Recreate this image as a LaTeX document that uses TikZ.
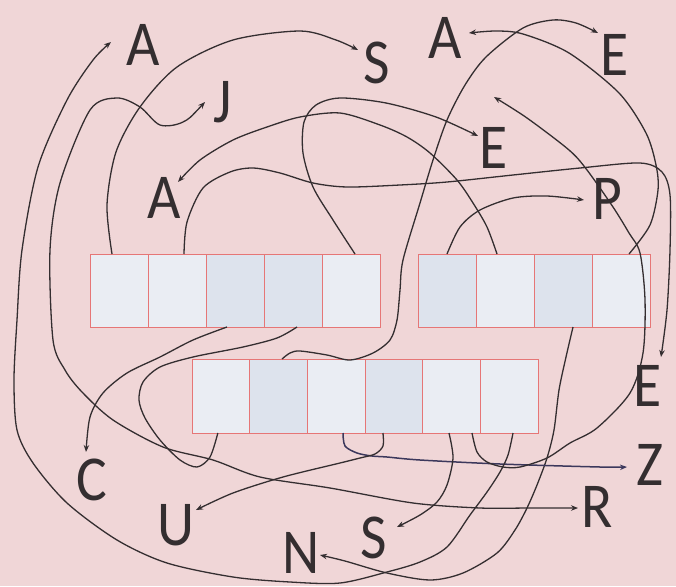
\documentclass[tikz,border=0pt]{standalone}
\usepackage{fontspec}
\newfontfamily\lettfont[FakeStretch=0.9]{Carlito}
\usetikzlibrary{arrows.meta,positioning,calc}
\definecolor{paper}{RGB}{240,214,215}
\definecolor{slotfill}{RGB}{234,237,243}
\definecolor{slotdark}{RGB}{221,227,237}
\definecolor{slotedge}{RGB}{230,118,118}
\definecolor{ink}{RGB}{52,46,48}
\definecolor{navy}{RGB}{60,56,92}

\begin{document}
\begin{tikzpicture}[x=1pt, y=-1pt,
  slot/.style={rectangle, draw=slotedge, line width=0.9pt, fill=slotfill,
              minimum width=58pt, minimum height=73pt, inner sep=0pt, outer sep=0pt},
  slotd/.style={slot, fill=slotdark},
  lowslot/.style={slot, minimum width=57.7pt, minimum height=74pt},
  lowslotd/.style={lowslot, fill=slotdark},
  lett/.style={font=\lettfont\fontsize{64}{64}\selectfont, text=ink, inner sep=1pt},
  arr/.style={-{Stealth[length=7pt,width=5.5pt]}, line width=1.3pt, color=ink},
  darr/.style={{Stealth[length=7pt,width=5.5pt]}-{Stealth[length=7pt,width=5.5pt]},
              line width=1.3pt, color=ink},
  narr/.style={-{Stealth[length=7pt,width=5.5pt]}, line width=1.5pt, color=navy},
  wire/.style={line width=1.3pt, color=ink},
  node distance=0pt
]
\useasboundingbox (0,0) rectangle (676,586);
\fill[paper] (0,0) rectangle (676,586);

% ── Upper row: five + four slots ─────────────
\node[slot] (a1) at (119.5,290.5) {};
\node[slot, right=of a1] (a2) {};
\node[slotd, right=of a2] (a3) {};
\node[slotd, right=of a3] (a4) {};
\node[slot, right=of a4] (a5) {};
\node[slotd] (b1) at (447,290.5) {};
\node[slot, right=of b1] (b2) {};
\node[slotd, right=of b2] (b3) {};
\node[slot, right=of b3] (b4) {};

% ── Lower row: six slots ─────────────
\node[lowslot] (c1) at (220.85,396) {};
\node[lowslotd, right=of c1] (c2) {};
\node[lowslot, right=of c2] (c3) {};
\node[lowslotd, right=of c3] (c4) {};
\node[lowslot, right=of c4] (c5) {};
\node[lowslot, right=of c5] (c6) {};

% ── Letters ─────────────
\node[lett] (aTL) at (143,45) {A};
\node[lett] (j)   at (223,102) {J};
\node[lett] (sT)  at (377,63) {S};
\node[lett] (aTR) at (445,38) {A};
\node[lett] (eT)  at (615,55) {E};
\node[lett] (eM)  at (494,148) {E};
\node[lett] (aL)  at (164,198) {A};
\node[lett] (p)   at (607,199) {P};
\node[lett] (eR)  at (648,386) {E};
\node[lett] (c)   at (92,480) {C};
\node[lett] (z)   at (650,465) {Z};
\node[lett] (u)   at (176,525) {U};
\node[lett] (r)   at (597,507) {R};
\node[lett] (sB)  at (374,538) {S};
\node[lett] (n)   at (301,553) {N};
\coordinate (loose) at (494,97);

% ── Connectors from the upper row ─────────────
\draw[arr] plot[smooth] coordinates {($(a1.north)+(-7.5,0)$) (107,205) (116,152)
  (140,107) (177,67) (233,40) (300,31) (336,40) ($(sT)+(-19,-13)$)};
\draw[arr] plot[smooth] coordinates {($(a2.north)+(6.5,0)$) (187,222) (203,188)
  (230,172) (253,168) (280,173) (313,183) (347,187) (400,185) (447,182) (513,175)
  (580,168) (640,163) (662,172) (670,195) (670,250) (667,310) ($(eR)+(13,-29)$)};
\draw[arr] plot[smooth] coordinates {($(a3.south)+(-8.5,0)$) (193,340) (160,357)
  (127,373) (103,393) (90,417) ($(c)+(-6,-28)$)};
\draw[wire] plot[smooth] coordinates {($(a4.south)+(3.5,0)$) (277,338) (243,347)
  (193,357) (160,367) (143,382) (139,400) (145,418) (160,440) (180,460) (197,467)
  (210,457) ($(c1.south)+(-3,0)$)};
\draw[arr] plot[smooth] coordinates {($(a5.north)+(3.5,0)$) (333,220) (313,187)
  (303,153) (304,122) (316,105) (340,98) (386,103) (436,117) ($(eM)+(-16,-12)$)};
\draw[arr] plot[smooth] coordinates {(b1.north) (460,227) (480,210) (513,198)
  (547,196) ($(p)+(-23,1)$)};
\draw[arr] plot[smooth] coordinates {($(b2.north)+(-8,0)$) (487,227) (473,203)
  (457,180) (430,153) (407,137) (380,125) (340,113) (300,117) (267,127) (233,140)
  (200,160) ($(aL)+(14,-16)$)};
\draw[arr] plot[smooth] coordinates {($(b3.south)+(10,0)$) (566,357) (559,390)
  (554,430) (547,458) (537,485) (527,508) (515,530) (497,553) (463,573) (430,580)
  (387,573) (345,561) ($(n)+(19,2)$)};
\draw[arr] plot[smooth] coordinates {($(b4.north)+(8,0)$) (650,225) (658,190)
  (656,165) (646,133) (619,93) (569,53) (523,34) (496,31) ($(aTR)+(24,-5)$)};

% ── Connectors from the lower row ─────────────
\draw[arr] plot[smooth] coordinates {($(c2.north)+(3.5,0)$) (290,353) (300,351)
  (327,355) (350,360) (373,353) (390,340) (397,320) (400,290) (403,260) (420,203)
  (433,160) (447,120) (465,85) (486,57) (523,28) (553,20) (576,23) ($(eT)+(-17,-22)$)};
\draw[narr] plot[smooth] coordinates {($(c3.south)+(6.75,0)$) (345,446) (357,453)
  (372,456) (387,457) (420,460) (500,464) (600,467) ($(z)+(-23,2)$)};
\draw[arr] plot[smooth] coordinates {($(c4.south)+(-11,0)$) (383,446) (375,454)
  (360,458) (340,463) (283,477) (233,493) ($(u)+(20,-15)$)};
\draw[arr] plot[smooth] coordinates {($(c5.south)+(-2.65,0)$) (453,458) (447,485)
  (437,502) (420,515) ($(sB)+(23,-11)$)};
\draw[arr] plot[smooth] coordinates {($(c5.south)+(20.35,0)$) (477,452) (487,462)
  (503,467) (520,467) (547,458) (570,443) (597,428) (630,393) (643,353) (645,300)
  (640,253) (629,233) (613,207) (587,170) (569,150) (527,118) (loose)};
\draw[arr] plot[smooth] coordinates {($(c6.south)+(3.65,0)$) (508,455) (500,472)
  (487,492) (470,515) (447,547) (420,562) (387,572) (340,583) (290,582) (233,577)
  (167,563) (117,540) (67,503) (33,463) (17,430) (14,380) (17,320) (22,250)
  (38,167) (67,100) (93,60) ($(aTL)+(-32,-3)$)};

% ── Two-headed connector J -- R ─────────────
\draw[darr] plot[smooth] coordinates {($(j)+(-18,0)$) (183,122) (160,125) (140,107)
  (117,98) (90,110) (60,183) (50,250) (53,340) (65,370) (82,392) (113,420)
  (163,447) (213,460) (260,477) (330,488) (413,503) (480,508) (530,508)
  ($(r)+(-19,1)$)};
\end{tikzpicture}
\end{document}
